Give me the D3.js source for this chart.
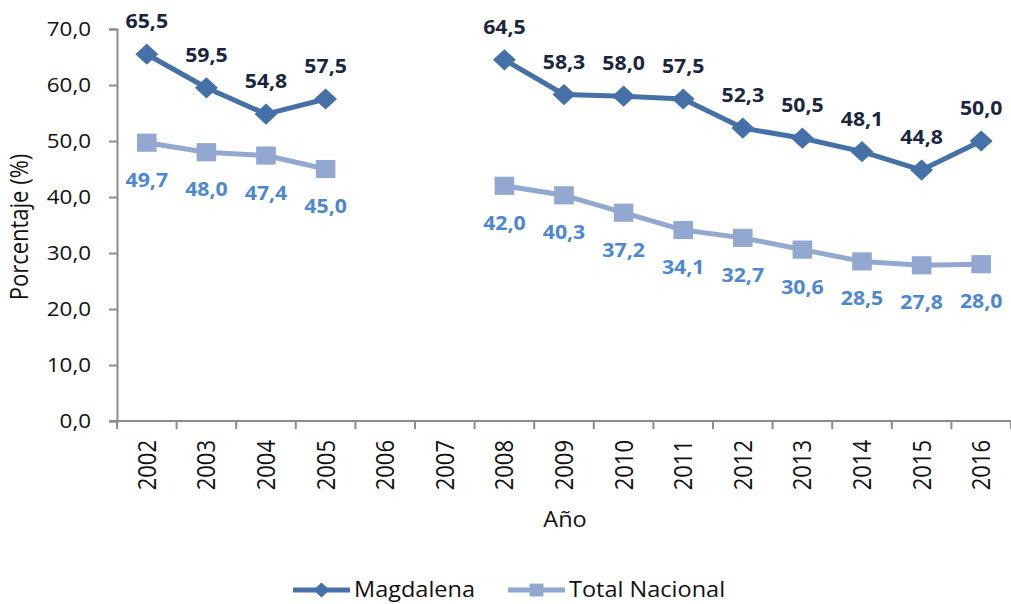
<!DOCTYPE html>
<html>
<head>
<meta charset="utf-8">
<script src="https://cdn.jsdelivr.net/npm/d3@7"></script>
<style>
  body { margin: 0; background: #fff; }
  text { font-family: "Open Sans", sans-serif; }
</style>
</head>
<body>
<div class="chart"></div>
<script>
// data (null = no value)
var years = ["2002", "2003", "2004", "2005", "2006", "2007", "2008", "2009", "2010", "2011", "2012", "2013", "2014", "2015", "2016"];
var magdalena = [65.5, 59.5, 54.8, 57.5, null, null, 64.5, 58.3, 58.0, 57.5, 52.3, 50.5, 48.1, 44.8, 50.0];
var totalNacional = [49.7, 48.0, 47.4, 45.0, null, null, 42.0, 40.3, 37.2, 34.1, 32.7, 30.6, 28.5, 27.8, 28.0];
var yTicks = [0, 10, 20, 30, 40, 50, 60, 70];

var svgWidth = 1011;
var svgHeight = 604;

var margin = { top: 29, right: 0, bottom: 183, left: 117 };
var width = svgWidth - margin.left - margin.right;
var height = svgHeight - margin.top - margin.bottom;

// the original picture is a bit wider than tall, so text gets stretched sideways
var sx = 1.12;

var fmt = function(v) { return d3.format(".1f")(v).replace(".", ","); };

var svg = d3.select(".chart")
  .append("svg")
  .attr("width", svgWidth)
  .attr("height", svgHeight);

var chartGroup = svg.append("g")
  .attr("transform", `translate(${margin.left}, ${margin.top})`);

// scales
var xBand = d3.scaleBand().domain(years).range([0, width]);
var yLinearScale = d3.scaleLinear().domain([0, 70]).range([height, 0]);
var xCenter = function(i) { return xBand(years[i]) + xBand.bandwidth() / 2; };

// y axis
var leftAxis = d3.axisLeft(yLinearScale)
  .tickValues(yTicks)
  .tickSize(8)
  .tickPadding(18)
  .tickFormat(fmt);

var yAxis = chartGroup.append("g").call(leftAxis);
yAxis.select(".domain").attr("stroke", "#8c8c8c").attr("stroke-width", 2);
yAxis.selectAll(".tick line").attr("stroke", "#8c8c8c").attr("stroke-width", 2);
yAxis.selectAll("text")
  .attr("font-family", "Open Sans")
  .attr("font-size", 20)
  .attr("fill", "#111")
  .attr("transform", `translate(-26, 0) scale(${sx}, 1)`)
  .attr("x", 0);

// x axis - ticks at band boundaries
var xAxis = chartGroup.append("g")
  .attr("transform", `translate(0, ${height})`);

xAxis.append("line")
  .attr("x1", -8).attr("x2", width)
  .attr("y1", 0).attr("y2", 0)
  .attr("stroke", "#8c8c8c").attr("stroke-width", 2);

xAxis.selectAll(".bound")
  .data(years.concat(["end"]))
  .enter()
  .append("line")
  .attr("class", "bound")
  .attr("x1", (d, i) => i * xBand.step())
  .attr("x2", (d, i) => i * xBand.step())
  .attr("y1", 0).attr("y2", 8)
  .attr("stroke", "#8c8c8c").attr("stroke-width", 2);

xAxis.selectAll(".yearLabel")
  .data(years)
  .enter()
  .append("text")
  .attr("class", "yearLabel")
  .attr("transform", (d, i) => `translate(${xCenter(i) + 9}, 19) scale(${sx}, 1) rotate(-90)`)
  .attr("text-anchor", "end")
  .attr("font-family", "Liberation Sans")
  .attr("font-size", 22)
  .attr("fill", "#111")
  .text(d => d);

// axis titles
svg.append("text")
  .attr("transform", `translate(28, 227) scale(${sx}, 1) rotate(-90)`)
  .attr("text-anchor", "middle")
  .attr("font-size", 22)
  .attr("fill", "#111")
  .text("Porcentaje (%)");

svg.append("text")
  .attr("transform", `translate(565, 527) scale(${sx}, 1)`)
  .attr("text-anchor", "middle")
  .attr("font-family", "Liberation Sans")
  .attr("font-size", 21)
  .attr("fill", "#111")
  .text("Año");

// series (diamond = square turned 45 degrees)
var series = [
  { name: "Magdalena", values: magdalena, color: "#4571A8", labelColor: "#1A253F", rot: 45, size: 225, dy: -26 },
  { name: "Total Nacional", values: totalNacional, color: "#93A8D0", labelColor: "#4D87D3", rot: 0, size: 330, dy: 44 }
];

series.forEach(function(s) {
  var line = d3.line()
    .defined(d => d != null)
    .x((d, i) => xCenter(i))
    .y(d => yLinearScale(d));

  chartGroup.append("path")
    .datum(s.values)
    .attr("fill", "none")
    .attr("stroke", s.color)
    .attr("stroke-width", 5)
    .attr("stroke-linejoin", "round")
    .attr("d", line);

  var pts = s.values.map((v, i) => ({ v: v, i: i })).filter(d => d.v != null);

  chartGroup.selectAll(null)
    .data(pts)
    .enter()
    .append("path")
    .attr("d", d3.symbol().type(d3.symbolSquare).size(s.size))
    .attr("transform", d => `translate(${xCenter(d.i)}, ${yLinearScale(d.v)}) scale(1.08, 1) rotate(${s.rot})`)
    .attr("fill", s.color);

  chartGroup.selectAll(null)
    .data(pts)
    .enter()
    .append("text")
    .attr("transform", d => `translate(${xCenter(d.i)}, ${yLinearScale(d.v) + s.dy}) scale(${sx}, 1)`)
    .attr("text-anchor", "middle")
    .attr("font-size", 19)
    .attr("font-weight", "bold")
    .attr("fill", s.labelColor)
    .text(d => fmt(d.v));
});

// legend
var legend = svg.append("g").attr("transform", "translate(0, 590)");
var legendItems = [
  { name: "Magdalena", x: 293, s: series[0] },
  { name: "Total Nacional", x: 508, s: series[1] }
];
legendItems.forEach(function(item) {
  legend.append("line")
    .attr("x1", item.x).attr("x2", item.x + 57)
    .attr("y1", 0).attr("y2", 0)
    .attr("stroke", item.s.color).attr("stroke-width", 5);
  legend.append("path")
    .attr("d", d3.symbol().type(d3.symbolSquare).size(item.s.size * 0.5))
    .attr("transform", `translate(${item.x + 28.5}, 0) scale(1.08, 1) rotate(${item.s.rot})`)
    .attr("fill", item.s.color);
  legend.append("text")
    .attr("transform", `translate(${item.x + 61}, 7) scale(${sx}, 1)`)
    .attr("font-size", 21)
    .attr("fill", "#111")
    .text(item.name);
});
</script>
</body>
</html>
